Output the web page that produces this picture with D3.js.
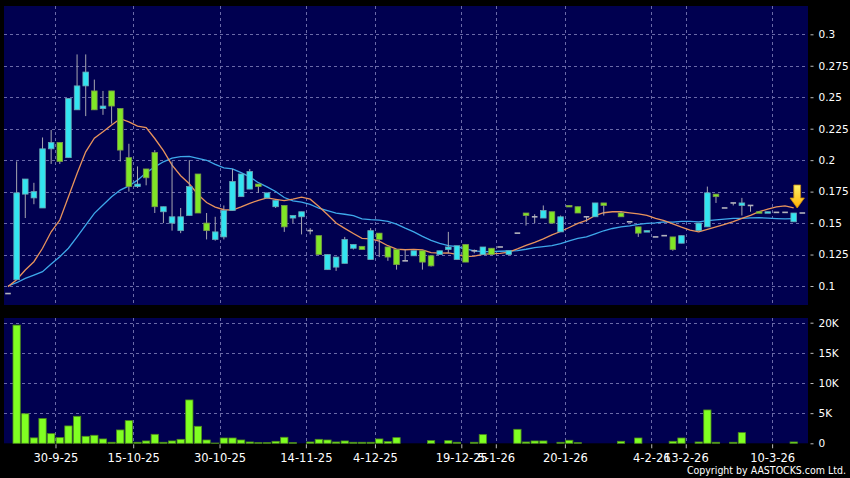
<!DOCTYPE html>
<html><head><meta charset="utf-8">
<script src="https://cdn.jsdelivr.net/npm/d3@7"></script>
<style>html,body{margin:0;padding:0;background:#000;}svg{display:block;}</style>
</head><body>
<svg id="chart" width="850" height="478"></svg>
<script>
// ---- data ----
const openP = [0.094,0.105,0.173,0.170,0.162,0.209,0.214,0.202,0.240,0.259,
0.255,0.241,0.255,0.241,0.202,0.179,0.193,0.206,0.159,0.150,
0.144,0.156,0.189,0.150,0.137,0.139,0.160,0.171,0.177,0.181,
0.170,0.163,0.164,0.154,0.155,0.144,0.140,0.113,0.115,0.118,
0.130,0.1315,0.121,0.142,0.131,0.129,0.120,0.124,0.128,0.124,
0.125,0.129,0.121,0.133,0.128,0.125,0.130,0.131,0.125,0.142,
0.158,0.155,0.154,0.159,0.143,0.164,0.163,0.155,0.155,0.166,
null,0.158,0.151,0.147,0.143,0.139,0.140,0.139,0.134,null,
0.144,0.147,0.173,0.162,0.166,0.164,0.164,0.159,0.158,0.1585,
0.1585,0.151,0.158];
const highP = [0.094,0.199,0.185,0.182,0.218,0.224,0.214,0.249,0.284,0.284,
0.264,0.255,0.255,0.241,0.213,0.195,0.193,0.208,0.163,0.199,
0.162,0.200,0.189,0.158,0.155,0.164,0.193,0.189,0.193,0.181,
0.174,0.168,0.164,0.156,0.159,0.146,0.140,0.125,0.123,0.139,
0.133,0.1315,0.146,0.142,0.131,0.129,0.129,0.128,0.128,0.124,
0.128,0.143,0.132,0.133,0.129,0.131,0.130,0.131,0.128,0.142,
0.158,0.157,0.164,0.159,0.156,0.164,0.163,0.155,0.166,0.166,
null,0.159,0.151,0.147,0.144,0.139,0.140,0.139,0.140,null,
0.150,0.179,0.173,0.162,0.166,0.170,0.164,0.159,0.159,0.1585,
0.1585,0.158,0.158];
const lowP = [0.094,0.105,0.154,0.165,0.162,0.197,0.197,0.202,0.240,0.235,
0.240,0.236,0.229,0.199,0.175,0.178,0.180,0.158,0.150,0.144,
0.142,0.156,0.158,0.137,0.136,0.137,0.160,0.171,0.177,0.174,
0.170,0.162,0.143,0.150,0.141,0.141,0.125,0.113,0.112,0.118,
0.129,0.129,0.121,0.123,0.120,0.113,0.120,0.124,0.113,0.1155,
0.125,0.126,0.121,0.119,0.126,0.125,0.125,0.131,0.125,0.142,
0.148,0.150,0.154,0.150,0.143,0.163,0.158,0.151,0.155,0.156,
null,0.155,0.151,0.139,0.143,0.139,0.140,0.128,0.134,null,
0.144,0.147,0.166,0.162,0.164,0.156,0.159,0.158,0.158,0.1585,
0.1585,0.151,0.158];
const closeP = [0.094,0.174,0.185,0.175,0.209,0.214,0.199,0.249,0.259,0.270,
0.240,0.243,0.243,0.208,0.179,0.181,0.186,0.163,0.163,0.155,
0.155,0.179,0.158,0.144,0.143,0.160,0.183,0.189,0.191,0.179,
0.174,0.168,0.147,0.156,0.159,0.144,0.125,0.125,0.123,0.137,
0.133,0.129,0.144,0.137,0.123,0.117,0.120,0.128,0.119,0.116,
0.128,0.131,0.132,0.119,0.128,0.131,0.125,0.131,0.128,0.142,
0.156,0.155,0.160,0.150,0.155,0.163,0.158,0.155,0.166,0.164,
null,0.155,0.151,0.142,0.144,0.139,0.140,0.129,0.140,null,
0.150,0.174,0.171,0.162,0.166,0.166,0.164,0.158,0.159,0.1585,
0.1585,0.158,0.158];
const volume = [0,19600,4900,900,4100,1600,940,2880,4480,1160,
1330,720,170,2210,3760,170,390,1490,170,390,
660,7190,2820,550,50,880,880,550,220,110,
110,330,1000,110,0,220,660,550,220,390,
170,170,170,720,280,940,0,0,0,440,
0,440,170,0,170,1440,0,0,0,2320,
220,390,390,0,170,500,110,0,0,0,
0,330,0,880,0,0,0,330,880,0,
220,5530,170,0,170,1770,0,0,0,0,
0,220,0];
const ma10 = [0.0995,0.105,0.1127,0.1193,0.130,0.1431,0.1524,0.1709,0.1894,0.2066,
0.2174,0.2225,0.2280,0.2330,0.2304,0.2271,0.2258,0.2172,0.2076,0.1961,
0.1876,0.1812,0.1727,0.1663,0.1627,0.1606,0.1603,0.1629,0.1657,0.1681,
0.1700,0.1689,0.1678,0.1690,0.1706,0.1690,0.1632,0.1568,0.1500,0.1458,
0.1417,0.1378,0.1375,0.1356,0.1320,0.1293,0.1288,0.1291,0.1287,0.1266,
0.1261,0.1263,0.1251,0.1233,0.1238,0.1252,0.1257,0.1260,0.1269,0.1295,
0.1323,0.1347,0.1375,0.1406,0.1433,0.1465,0.1498,0.1522,0.1560,0.1582,
0.1590,0.1590,0.1581,0.1573,0.1562,0.1538,0.1520,0.1494,0.1468,0.1444,
0.1430,0.1449,0.1469,0.1489,0.1511,0.1538,0.1562,0.1591,0.1610,0.1629,
0.1637,0.1621,null];
const ma20 = [0.100,0.1026,0.1061,0.1087,0.1114,0.1175,0.1233,0.130,0.1391,0.1484,
0.1577,0.1643,0.1709,0.1762,0.1795,0.1841,0.1899,0.1947,0.1987,0.2016,
0.2028,0.2030,0.2014,0.1999,0.1966,0.1939,0.1931,0.1901,0.1867,0.1821,
0.1788,0.1751,0.1703,0.1677,0.1667,0.1648,0.1618,0.1599,0.1579,0.1570,
0.1559,0.1534,0.1527,0.1523,0.1513,0.1492,0.1460,0.1430,0.1394,0.1362,
0.1339,0.1321,0.1313,0.1295,0.1279,0.1273,0.1273,0.1276,0.1278,0.1281,
0.1292,0.1305,0.1313,0.1320,0.1336,0.1359,0.1378,0.1391,0.1415,0.1439,
0.1457,0.1469,0.1478,0.1490,0.1498,0.1502,0.1509,0.1508,0.1514,0.1513,
0.1510,0.1520,0.1525,0.1531,0.1537,0.1538,0.1541,0.1543,0.1539,0.1536,
0.1534,0.1535,null];
const dateLabels = ["30-9-25","15-10-25","30-10-25","14-11-25","4-12-25","19-12-25","5-1-26","20-1-26","4-2-26","13-2-26","10-3-26"];
const dateTickIndex = [5.5,14.5,24.5,34.5,42.5,52.5,56.5,64.5,74.5,78.5,88.5];
const priceTicks = [0.1,0.125,0.15,0.175,0.2,0.225,0.25,0.275,0.3];
const priceTickLabels = ["0.1","0.125","0.15","0.175","0.2","0.225","0.25","0.275","0.3"];
const volTicks = [0,5000,10000,15000,20000];
const volTickLabels = ["0","5K","10K","15K","20K"];
const copyright = "Copyright by AASTOCKS.com Ltd.";

// ---- layout ----
const W = 850, H = 478;
const P = {l:4, r:808, t:6, b:305};
const V = {t:318, b:443.3};
const FONT = "'DejaVu Sans', sans-serif";
const BG = "#000050", GRID = "#6a6aa8";
const UP = "#33e4f0", DOWN = "#80e626";

const svg = d3.select("#chart");
svg.append("rect").attr("width", W).attr("height", H).attr("fill", "#000");

const x = d3.scaleLinear().domain([0, 91]).range([8, 793.7]);
const y = d3.scaleLinear().domain([0.1, 0.3]).range([286, 34.3]);
const yv = d3.scaleLinear().domain([0, 20000]).range([V.b, 322.7]);

const defs = svg.append("defs");
defs.append("clipPath").attr("id", "clipP").append("rect")
  .attr("x", P.l).attr("y", P.t).attr("width", P.r - P.l).attr("height", P.b - P.t);
const grad = defs.append("linearGradient").attr("id", "arrowGrad")
  .attr("x1", 0).attr("y1", 0).attr("x2", 0).attr("y2", 1);
grad.append("stop").attr("offset", "0%").attr("stop-color", "#fff36a");
grad.append("stop").attr("offset", "100%").attr("stop-color", "#ffb000");

// panels
svg.append("rect").attr("x", P.l).attr("y", P.t).attr("width", P.r - P.l).attr("height", P.b - P.t).attr("fill", BG);
svg.append("rect").attr("x", P.l).attr("y", V.t).attr("width", P.r - P.l).attr("height", V.b - V.t).attr("fill", BG);

// grid
const grid = svg.append("g").attr("stroke", GRID).attr("stroke-width", 1).attr("stroke-dasharray", "3,3").attr("fill", "none");
priceTicks.forEach(v => grid.append("line").attr("x1", P.l).attr("x2", P.r).attr("y1", Math.round(y(v)) + 0.5).attr("y2", Math.round(y(v)) + 0.5));
volTicks.filter(v => v > 0).forEach(v => grid.append("line").attr("x1", P.l).attr("x2", P.r).attr("y1", Math.round(yv(v)) + 0.5).attr("y2", Math.round(yv(v)) + 0.5));
dateTickIndex.forEach(t => {
  const xx = Math.round(x(t)) + 0.5;
  grid.append("line").attr("x1", xx).attr("x2", xx).attr("y1", P.t).attr("y2", P.b);
  grid.append("line").attr("x1", xx).attr("x2", xx).attr("y1", V.t).attr("y2", V.b);
});

// moving averages
const idxAll = d3.range(closeP.length);
const gL = svg.append("g").attr("clip-path", "url(#clipP)");
const lineOf = arr => d3.line().defined(i => arr[i] !== null).x(i => x(i)).y(i => y(arr[i]));
gL.append("path").datum(idxAll).attr("d", lineOf(ma20)).attr("fill", "none").attr("stroke", "#3ea8ea").attr("stroke-width", 1.3);
gL.append("path").datum(idxAll).attr("d", lineOf(ma10)).attr("fill", "none").attr("stroke", "#e8935c").attr("stroke-width", 1.3);

// candles
const idx = idxAll.filter(i => closeP[i] !== null);
const gC = svg.append("g").attr("clip-path", "url(#clipP)");
const bw = 5.6;
idx.forEach(i => {
  const cx = x(i);
  const o = openP[i], c = closeP[i], h = highP[i], l = lowP[i];
  if (h !== l) gC.append("line").attr("x1", cx).attr("x2", cx).attr("y1", y(h)).attr("y2", y(l))
    .attr("stroke", "#a6a6b0").attr("stroke-width", 1);
  if (o === c) {
    gC.append("line").attr("x1", cx - bw / 2).attr("x2", cx + bw / 2).attr("y1", y(c)).attr("y2", y(c))
      .attr("stroke", "#b4b4bc").attr("stroke-width", 1.6);
  } else {
    const top = y(Math.max(o, c)), bot = y(Math.min(o, c));
    gC.append("rect").attr("x", cx - bw / 2).attr("y", top).attr("width", bw).attr("height", Math.max(bot - top, 1.5))
      .attr("fill", c > o ? UP : DOWN).attr("stroke", c > o ? "#6aa6b4" : "#7a9a48").attr("stroke-width", 0.8);
  }
});

// arrow over the latest candle
const last = idx[idx.length - 2];
const ax = x(last) + 3.5, ay = y(highP[last]) - 5;
svg.append("path")
  .attr("d", `M${ax-3.4},${ay-23} L${ax+3.4},${ay-23} L${ax+3.4},${ay-10} L${ax+7.2},${ay-10} L${ax},${ay} L${ax-7.2},${ay-10} L${ax-3.4},${ay-10} Z`)
  .attr("fill", "url(#arrowGrad)").attr("stroke", "#c88a10").attr("stroke-width", 0.8);

// volume bars
const vw = 7.3;
svg.append("g").selectAll("rect").data(idxAll.filter(i => volume[i] > 0)).join("rect")
  .attr("x", i => x(i) - vw / 2).attr("width", vw)
  .attr("y", i => yv(volume[i])).attr("height", i => V.b - yv(volume[i]))
  .attr("fill", "#80ff22").attr("stroke", "#4e8c1c").attr("stroke-width", 0.8);

// axes
const styleAxis = (g, fs) => {
  g.select(".domain").remove();
  g.selectAll(".tick line").attr("stroke", "#bbbbbb");
  g.selectAll(".tick text").attr("fill", "#ffffff").style("font-family", FONT).style("font-size", fs);
};
svg.append("g").attr("transform", `translate(${P.r + 2.5},0)`)
  .call(d3.axisRight(y).tickValues(priceTicks).tickFormat((d, i) => priceTickLabels[i]).tickSize(3).tickPadding(5))
  .call(g => styleAxis(g, "10.5px"));
svg.append("g").attr("transform", `translate(${P.r + 2.5},0)`)
  .call(d3.axisRight(yv).tickValues(volTicks).tickFormat((d, i) => volTickLabels[i]).tickSize(3).tickPadding(5))
  .call(g => styleAxis(g, "10.5px"));
svg.append("g").attr("transform", `translate(0,${V.b + 1})`)
  .call(d3.axisBottom(x).tickValues(dateTickIndex).tickFormat((d, i) => dateLabels[i]).tickSize(4).tickPadding(6))
  .call(g => styleAxis(g, "11.5px"));

svg.append("text").attr("x", 846).attr("y", 474).attr("text-anchor", "end")
  .attr("fill", "#ffffff").style("font-family", "'DejaVu Sans Condensed', 'DejaVu Sans', sans-serif").style("font-size", "10.5px")
  .text(copyright);
</script>
</body></html>
